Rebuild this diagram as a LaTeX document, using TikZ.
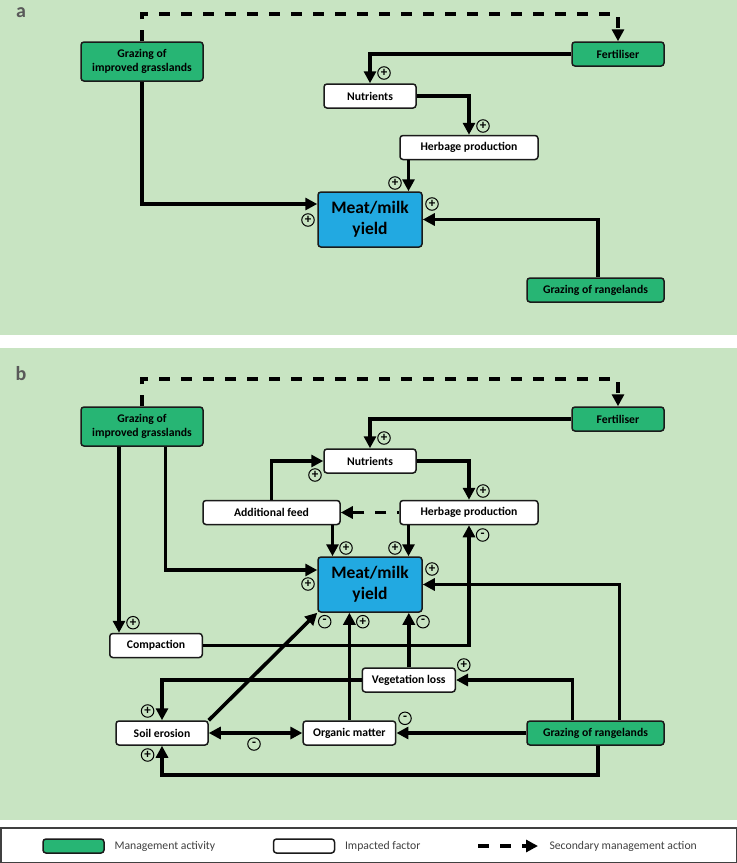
\documentclass[tikz,border=0pt]{standalone}
\usepackage{fontspec}
\setmainfont{Carlito}
\usetikzlibrary{arrows.meta,positioning}
\definecolor{PanelGreen}{HTML}{C8E4C2}
\definecolor{MgmtGreen}{HTML}{27B574}
\definecolor{YieldBlue}{HTML}{22A9E1}
\definecolor{EdgeDark}{HTML}{1A1A1A}
\definecolor{LabelGray}{HTML}{595959}
\definecolor{LegendGray}{HTML}{404040}
\tikzset{
  box/.style={draw=EdgeDark, line width=1.5pt, rounded corners=3pt, align=center,
              minimum height=24pt, inner sep=1pt, font=\fontsize{11.7}{14}\selectfont\bfseries},
  mgmt/.style={box, fill=MgmtGreen},
  impact/.style={box, fill=white},
  yield/.style={box, fill=YieldBlue, minimum width=104pt, minimum height=55pt,
                font=\fontsize{17.5}{21}\selectfont\bfseries},
  sgn/.style={circle, draw, line width=1pt, minimum size=12.5pt, inner sep=0pt,
              font=\fontsize{13}{13}\selectfont\bfseries},
  flow/.style={-{Triangle[length=12pt,width=12pt]}, line width=3.6pt},
  twoway/.style={{Triangle[length=12pt,width=12pt]}-{Triangle[length=12pt,width=12pt]}, line width=3.6pt},
  second/.style={flow, dash pattern=on 11pt off 11pt},
  panel/.style={fill=PanelGreen},
  tag/.style={anchor=base, inner sep=0pt, text=LabelGray, font=\fontsize{20}{20}\selectfont\bfseries},
  legtext/.style={anchor=west, text=LegendGray, font=\fontsize{11.7}{14}\selectfont}
}
\begin{document}
\begin{tikzpicture}[x=1pt, y=1pt]
  \useasboundingbox (0,0) rectangle (737,-863);
  \fill[white] (0,0) rectangle (737,-863);
  \fill[panel] (0,0) rectangle (737,-335);
  \fill[panel] (0,-348) rectangle (737,-820);

  % panel a
  \node[tag] (taga) at (21,-17) {a};
  \node[mgmt, minimum width=122pt, minimum height=39pt] (gia) at (142,-61.5) {Grazing of\\improved grasslands};
  \node[mgmt, minimum width=92pt] (fea) at (618,-54) {Fertiliser};
  \node[impact, minimum width=92pt] (nua) at (370,-96) {Nutrients};
  \node[impact, minimum width=138pt] (hea) at (469,-147.5) {Herbage production};
  \node[yield] (mya) at (370,-219.5) {Meat/milk\\yield};
  \node[mgmt, minimum width=137pt] (gra) at (595.5,-290) {Grazing of rangelands};

  \draw[second] (gia.north) -- ++(0,27) -| (fea.north);
  \draw[flow] (fea.west) -| (nua.north);
  \draw[flow] (nua.east) -| (hea.north);
  \draw[flow] ([xshift=-60.5]hea.south) -- ([xshift=-60.5]hea.south |- mya.north);
  \draw[flow] (gia.south) |- ([yshift=15.5]mya.west);
  \draw[flow] ([xshift=2.5]gra.north) |- (mya.east);

  % panel b
  \node[tag] (tagb) at (21,-380) {b};
  \node[mgmt, minimum width=122pt, minimum height=39pt] (gib) at (142,-426.5) {Grazing of\\improved grasslands};
  \node[mgmt, minimum width=92pt] (feb) at (618,-419) {Fertiliser};
  \node[impact, minimum width=92pt] (nub) at (370,-461) {Nutrients};
  \node[impact, minimum width=138pt] (heb) at (469,-512.5) {Herbage production};
  \node[impact, minimum width=137pt] (afb) at (271.5,-512.5) {Additional feed};
  \node[yield] (myb) at (370,-584.5) {Meat/milk\\yield};
  \node[impact, minimum width=92.5pt] (cob) at (156,-645.5) {Compaction};
  \node[impact, minimum width=93pt] (vlb) at (408.8,-680) {Vegetation loss};
  \node[impact, minimum width=92pt] (seb) at (162,-733) {Soil erosion};
  \node[impact, minimum width=92.6pt] (omb) at (349.4,-733) {Organic matter};
  \node[mgmt, minimum width=137pt] (grb) at (595.5,-733) {Grazing of rangelands};

  \draw[second] (gib.north) -- ++(0,27) -| (feb.north);
  \draw[flow] (feb.west) -| (nub.north);
  \draw[flow] (nub.east) -| (heb.north);
  \draw[second, dash phase=9pt] (heb.west) -- (afb.east);
  \draw[flow] (afb.north) |- (nub.west);
  \draw[flow] ([xshift=61]afb.south) -- ([xshift=61]afb.south |- myb.north);
  \draw[flow] ([xshift=-60.5]heb.south) -- ([xshift=-60.5]heb.south |- myb.north);
  \draw[flow] ([xshift=23.4]gib.south) |- ([yshift=14.5]myb.west);
  \draw[flow] ([xshift=-23]gib.south) -- ([xshift=-23]gib.south |- cob.north);
  \draw[flow] (cob.east) -| (heb.south);
  \draw[flow] ([xshift=24]grb.north) |- (myb.east);
  \draw[flow] ([xshift=-23]grb.north) |- (vlb.east);
  \draw[flow] (grb.west) -- (omb.east);
  \draw[flow] (vlb.west) -| (seb.north);
  \draw[flow] (vlb.north) -- (vlb.north |- myb.south);
  \draw[flow] (omb.north) -- (omb.north |- myb.south);
  \draw[flow] (seb.north east) -- (myb.south west);
  \draw[twoway] (seb.east) -- (omb.west);
  \draw[flow] ([xshift=2.2]grb.south) -- ++(0,-29) -| (seb.south);

  % signs
  \foreach \n/\x/\y/\s in {a1/384/73/+, a2/483/126/+, a3/395/183/+, a4/308/220/+, a5/432/204/+,
      b1/384/438/+, b2/483/491/+, b3/315/475/+, b4/346/548/+, b5/395/548/+, b6/308/584/+,
      b7/432/569/+, b8/482.6/535/-, b9/133/622.7/+, b10/324.7/621.7/-, b11/362.8/621.7/+,
      b12/423/621.7/-, b13/463.8/665/+, b14/147.6/711/+, b15/405/718.3/-, b16/254/744/-,
      b17/147.6/755/+}
    \node[sgn] (sg\n) at (\x,-\y) {\s};

  % legend
  \draw[LegendGray, line width=1.5pt] (0.75,-828) rectangle (736.25,-862.5);
  \node[mgmt, minimum width=61pt, minimum height=14pt] (lgm) at (73.5,-846) {};
  \node[legtext] (lgmt) at (111,-846) {Management activity};
  \node[impact, minimum width=61pt, minimum height=14pt] (lgi) at (304,-846) {};
  \node[legtext] (lgit) at (341.5,-846) {Impacted factor};
  \coordinate (lgs) at (478,-846);
  \coordinate (lge) at (538,-846);
  \draw[second] (lgs) -- (lge);
  \node[legtext] (lgst) at (546,-846) {Secondary management action};
\end{tikzpicture}
\end{document}
